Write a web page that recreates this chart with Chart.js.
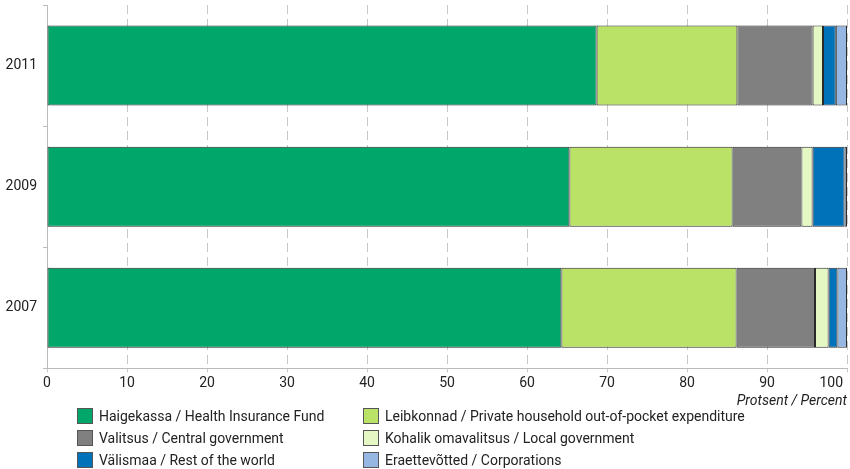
<!doctype html>
<html lang="et">
<head>
  <meta charset="UTF-8">
  <title>Tervishoiu rahastamine</title>
  <script src="https://cdn.jsdelivr.net/npm/chart.js@4/dist/chart.umd.min.js"></script>
  <style>
    html, body { margin: 0; padding: 0; background: #fff; }
  </style>
</head>
<body>
  <canvas id="canvas" width="850" height="469"></canvas>
  <script>
    const years = ['2011', '2009', '2007'];

    const haigekassa = [68.7, 65.3, 64.3];
    const leibkonnad = [17.6, 20.4, 21.9];
    const valitsus = [9.4, 8.6, 9.8];
    const omavalitsus = [1.3, 1.4, 1.7];
    const valismaa = [1.6, 4.0, 1.1];
    const eraettevotted = [1.4, 0.3, 1.2];

    const seriesNames = [
      'Haigekassa / Health Insurance Fund',
      'Leibkonnad / Private household out-of-pocket expenditure',
      'Valitsus / Central government',
      'Kohalik omavalitsus / Local government',
      'Välismaa / Rest of the world',
      'Eraettevõtted / Corporations'
    ];
    const seriesValues = [haigekassa, leibkonnad, valitsus, omavalitsus, valismaa, eraettevotted];
    const colors = ['#00a66a', '#bae267', '#808080', '#e5f7c2', '#0072b9', '#95b7e1'];

    const FONT = 'Roboto, "Liberation Sans", sans-serif';

    // legend in two columns under the axis
    const gridLegend = {
      id: 'gridLegend',
      afterDraw(chart) {
        const ctx = chart.ctx;
        ctx.save();
        ctx.font = '14px ' + FONT;
        ctx.textBaseline = 'middle';
        chart.data.datasets.forEach((ds, i) => {
          const x = i % 2 === 0 ? 77 : 363;
          const y = 416 + Math.floor(i / 2) * 22;
          ctx.fillStyle = ds.backgroundColor;
          ctx.fillRect(x, y - 8, 16, 16);
          ctx.strokeStyle = '#555';
          ctx.lineWidth = 1;
          ctx.strokeRect(x + 0.5, y - 7.5, 15, 15);
          ctx.fillStyle = '#222';
          ctx.fillText(ds.label, x + 22, y + 1);
        });
        ctx.restore();
      }
    };

    new Chart(document.getElementById('canvas'), {
      type: 'bar',
      data: {
        labels: years,
        datasets: seriesNames.map((name, i) => ({
          label: name,
          data: seriesValues[i],
          backgroundColor: colors[i],
          borderColor: '#2a2a2a',
          borderWidth: 1,
          borderSkipped: false,
          barPercentage: 0.66,
          categoryPercentage: 1
        }))
      },
      options: {
        indexAxis: 'y',
        responsive: false,
        animation: false,
        layout: { padding: { top: 5, right: 3, bottom: 59, left: 0 } },
        plugins: {
          legend: { display: false },
          tooltip: { enabled: false }
        },
        scales: {
          x: {
            stacked: true,
            min: 0,
            max: 100,
            ticks: {
              stepSize: 10,
              color: '#222',
              font: { family: FONT, size: 14 },
              padding: 3,
              // last label sits left of its line, as in the print
              callback: v => v === 100 ? '100' + '\u2007'.repeat(4) : String(v)
            },
            grid: {
              color: '#c8c8c8',
              lineWidth: 1,
              drawTicks: true,
              tickLength: 4
            },
            border: { display: true, color: '#bbb', dash: [9, 5] },
            title: {
              display: true,
              text: 'Protsent / Percent',
              align: 'end',
              color: '#222',
              font: { family: FONT, size: 14, style: 'italic' },
              padding: { top: -2, bottom: 0 }
            },
            afterFit: scale => { scale.paddingLeft = 0; scale.paddingRight = 0; }
          },
          y: {
            stacked: true,
            ticks: {
              color: '#222',
              font: { family: FONT, size: 14 },
              padding: 6
            },
            grid: {
              drawOnChartArea: false,
              drawTicks: true,
              tickLength: 4,
              color: '#bbb'
            },
            border: { display: true, color: '#bbb' },
            afterFit: scale => {
              scale.width = 47;
              scale.paddingTop = 0;
              scale.paddingBottom = 0;
            }
          }
        }
      },
      plugins: [gridLegend]
    });
  </script>
</body>
</html>
